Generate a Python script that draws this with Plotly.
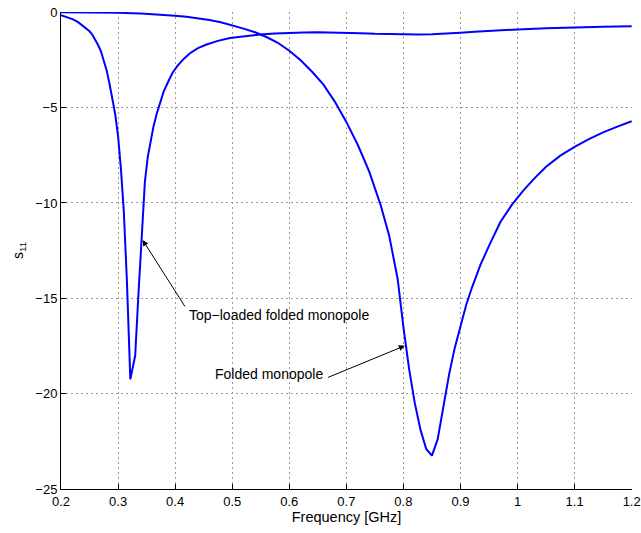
import plotly.graph_objects as go

# Top-loaded folded monopole
freq_top = [0.20, 0.21, 0.22, 0.23, 0.24, 0.25, 0.255, 0.26, 0.265, 0.27, 0.275, 0.28,
            0.285, 0.29, 0.295, 0.30, 0.305, 0.31, 0.3155, 0.3215, 0.33, 0.3355, 0.341,
            0.347, 0.352, 0.357, 0.362, 0.368, 0.3746, 0.38, 0.387, 0.395, 0.405, 0.415,
            0.426, 0.44, 0.455, 0.475, 0.496, 0.52, 0.5485, 0.575, 0.601, 0.625, 0.65,
            0.675, 0.70, 0.725, 0.75, 0.775, 0.80, 0.825, 0.85, 0.875, 0.90, 0.925, 0.95,
            1.00, 1.05, 1.10, 1.15, 1.20]
s11_top = [-0.15, -0.24, -0.36, -0.52, -0.74, -1.0, -1.18, -1.42, -1.72, -2.05, -2.5, -3.05,
           -3.75, -4.5, -5.35, -6.5, -8.2, -10.4, -14.1, -19.25, -18.0, -14.9, -11.9,
           -8.9, -7.6, -6.7, -6.0, -5.3, -4.6, -4.15, -3.7, -3.2, -2.78, -2.45,
           -2.15, -1.88, -1.69, -1.5, -1.35, -1.25, -1.17, -1.12, -1.08, -1.06, -1.05,
           -1.06, -1.08, -1.10, -1.13, -1.15, -1.17, -1.17, -1.15, -1.12, -1.07, -1.02, -0.97,
           -0.90, -0.84, -0.79, -0.76, -0.73]

# Folded monopole
freq_fold = [0.20, 0.25, 0.30, 0.34, 0.37, 0.40, 0.42, 0.44, 0.46, 0.48, 0.50, 0.52,
             0.54, 0.56, 0.58, 0.60, 0.62, 0.64, 0.66, 0.68, 0.70, 0.72, 0.74, 0.76,
             0.775, 0.79, 0.80, 0.81, 0.82, 0.83, 0.84, 0.85, 0.86, 0.87, 0.88, 0.89,
             0.90, 0.91, 0.92, 0.935, 0.95, 0.97, 0.99, 1.01, 1.03, 1.05, 1.075, 1.10,
             1.125, 1.15, 1.175, 1.20]
s11_fold = [0.0, -0.01, -0.03, -0.07, -0.11, -0.18, -0.24, -0.31, -0.41, -0.53, -0.68, -0.86,
            -1.05, -1.3, -1.6, -2.02, -2.52, -3.12, -3.8, -4.7, -5.75, -6.95, -8.35, -10.1,
            -11.7, -14.0, -16.5, -18.7, -20.5, -21.9, -22.9, -23.25, -22.4, -20.6, -19.0, -17.6,
            -16.4, -15.35, -14.45, -13.25, -12.25, -11.0, -10.1, -9.35, -8.7, -8.1, -7.52, -7.06,
            -6.65, -6.3, -6.0, -5.72]

x_ticks = [0.2, 0.3, 0.4, 0.5, 0.6, 0.7, 0.8, 0.9, 1.0, 1.1, 1.2]
x_tick_labels = ["0.2", "0.3", "0.4", "0.5", "0.6", "0.7", "0.8", "0.9", "1", "1.1", "1.2"]
y_ticks = [-25, -20, -15, -10, -5, 0]

FONT = "Liberation Sans, Arial, sans-serif"

fig = go.Figure()
fig.add_trace(go.Scatter(x=freq_top, y=s11_top, mode="lines",
                         line=dict(color="#0000ff", width=2), showlegend=False))
fig.add_trace(go.Scatter(x=freq_fold, y=s11_fold, mode="lines",
                         line=dict(color="#0000ff", width=2), showlegend=False))

# arrows (head at x,y ; tail at ax,ay)
fig.add_annotation(x=0.343, y=-11.94, ax=0.4189, ay=-15.51, axref="x", ayref="y",
                   xref="x", yref="y", text="", showarrow=True, arrowhead=2,
                   arrowsize=1.2, arrowwidth=1, arrowcolor="black")
fig.add_annotation(x=0.8025, y=-17.49, ax=0.6653, ay=-19.18, axref="x", ayref="y",
                   xref="x", yref="y", text="", showarrow=True, arrowhead=2,
                   arrowsize=1.2, arrowwidth=1, arrowcolor="black")
# labels
fig.add_annotation(x=0.4207, y=-15.9, xref="x", yref="y", text="Top\u2212loaded folded monopole",
                   showarrow=False, xanchor="left", yanchor="middle",
                   font=dict(family=FONT, size=14, color="black"))
fig.add_annotation(x=0.4662, y=-18.97, xref="x", yref="y", text="Folded monopole",
                   showarrow=False, xanchor="left", yanchor="middle",
                   font=dict(family=FONT, size=14, color="black"))

fig.update_layout(
    width=641, height=533,
    margin=dict(l=61, r=9, t=12, b=44),
    plot_bgcolor="white", paper_bgcolor="white",
    font=dict(family=FONT, size=13, color="black"),
    xaxis=dict(range=[0.2, 1.2006], tickvals=x_ticks, ticktext=x_tick_labels,
               ticks="inside", ticklen=5, tickcolor="black",
               showline=True, linecolor="black", linewidth=1, mirror=False,
               showgrid=True, gridcolor="#999999", griddash="2px,3px", gridwidth=1,
               zeroline=False, ticklabeloverflow="allow", automargin=False,
               title=dict(text="Frequency [GHz]", font=dict(size=14.5), standoff=2)),
    yaxis=dict(range=[-25, 0.012], tickvals=y_ticks,
               ticks="inside", ticklen=5, tickcolor="black",
               showline=True, linecolor="black", linewidth=1, mirror=False,
               showgrid=True, gridcolor="#999999", griddash="2px,3px", gridwidth=1,
               zeroline=False, automargin=False,
               title=dict(text="s<sub>11</sub>", font=dict(size=14), standoff=8)),
)

fig.write_html("out.html")
